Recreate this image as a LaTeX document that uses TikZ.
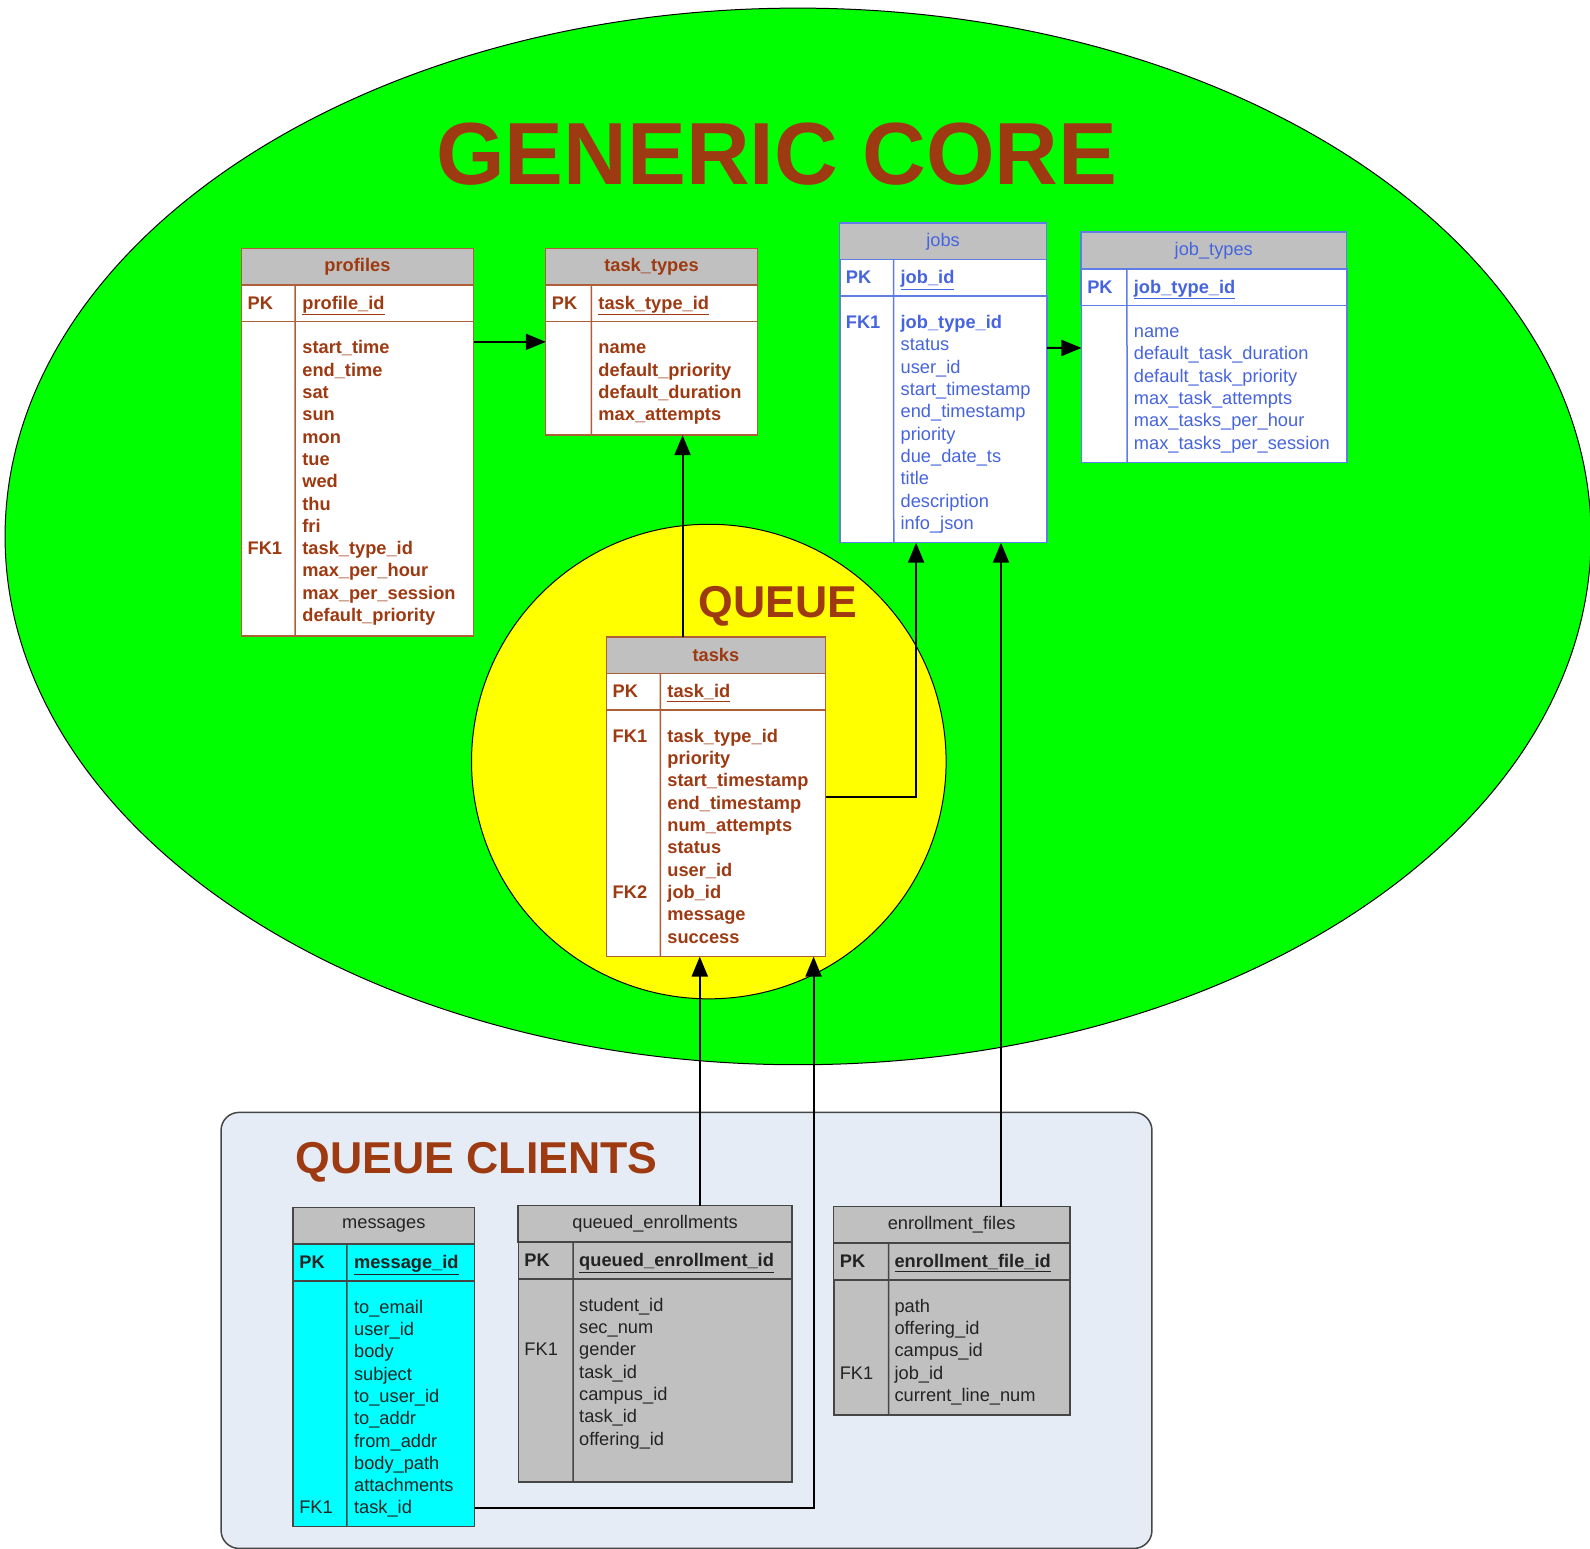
\documentclass[tikz,border=0pt]{standalone}
\usepackage{fontspec}
\setmainfont{Liberation Sans}
\usetikzlibrary{arrows.meta, positioning}

\definecolor{coregreen}{RGB}{0,255,0}
\definecolor{queueyellow}{RGB}{255,255,0}
\definecolor{brn}{RGB}{158,58,18}
\definecolor{brnline}{RGB}{175,95,55}
\definecolor{blu}{RGB}{70,100,222}
\definecolor{bluline}{RGB}{95,125,228}
\definecolor{hdrgray}{RGB}{192,192,192}
\definecolor{clientbg}{RGB}{230,236,246}
\definecolor{msgcyan}{RGB}{0,255,255}
\definecolor{txtgray}{RGB}{35,35,35}
\definecolor{linegray}{RGB}{70,70,70}
\newcommand{\fldfont}{\fontsize{18}{22}\selectfont}

\begin{document}
\begin{tikzpicture}[x=1pt, y=-1pt, scale=1.014, transform shape,
  tbl/.style={draw, line width=1.5pt, inner sep=0pt, outer sep=0pt, anchor=north west},
  tblhead/.style={tbl, fill=hdrgray, minimum height=36pt},
  tblpk/.style={tbl, minimum height=36pt},
  fld/.style={anchor=base west, inner sep=0pt, font=\fldfont},
  brnfld/.style={fld, text=brn, font=\fldfont\bfseries},
  blufld/.style={fld, text=blu},
  blubold/.style={fld, text=blu, font=\fldfont\bfseries},
  grayfld/.style={fld, text=txtgray},
  graybold/.style={fld, text=txtgray, font=\fldfont\bfseries},
  conn/.style={line width=2pt, -{Triangle[length=20pt, width=16pt]}},
  bigtitle/.style={anchor=base, text=brn, font=\bfseries\fontsize{44}{50}\selectfont}
]
\useasboundingbox (0,0) rectangle (1568,1526.6);

% backgrounds
\draw[fill=coregreen, line width=1pt] (787,529) ellipse [x radius=782, y radius=521];
\draw[fill=queueyellow, line width=1pt] (699,751) circle [radius=234];
\draw[fill=clientbg, draw=linegray, line width=1.5pt, rounded corners=18pt] (218,1097) rectangle (1136,1527);

\node[anchor=base, text=brn, font=\bfseries\fontsize{87}{92}\selectfont] (core-title) at (766,182) {GENERIC CORE};
\node[bigtitle] (queue-title) at (767,609) {QUEUE};
\node[bigtitle] (clients-title) at (470,1157) {QUEUE CLIENTS};

% profiles
\node[tblhead, draw=brnline, text=brn, font=\fldfont\bfseries, minimum width=229pt] (profiles) at (238,245) {profiles};
\node[tblpk, draw=brnline, fill=white, minimum width=229pt, below=0pt of profiles] (profiles-pk) {};
\node[tbl, draw=brnline, fill=white, minimum width=229pt, minimum height=310pt, below=0pt of profiles-pk] (profiles-body) {};
\draw[brnline, line width=1.5pt] (profiles-pk.north west) ++(53,0) coordinate (profiles-div) -- (profiles-div |- profiles-body.south);
\node[brnfld] (profiles-k0) at (244,305) {PK};
\node[brnfld] (profiles-id) at (298,305) {\underline{profile\_id}};
\node[brnfld] (profiles-k1) at (244,547) {FK1};
\foreach \f [count=\i from 0] in {start\_time, end\_time, sat, sun, mon, tue, wed, thu, fri, task\_type\_id, max\_per\_hour, max\_per\_session, default\_priority}
  \node[brnfld] (profiles-f\i) at (298,{349+22*\i}) {\f};

% task_types
\node[tblhead, draw=brnline, text=brn, font=\fldfont\bfseries, minimum width=209pt] (tasktypes) at (538,245) {task\_types};
\node[tblpk, draw=brnline, fill=white, minimum width=209pt, below=0pt of tasktypes] (tasktypes-pk) {};
\node[tbl, draw=brnline, fill=white, minimum width=209pt, minimum height=112pt, below=0pt of tasktypes-pk] (tasktypes-body) {};
\draw[brnline, line width=1.5pt] (tasktypes-pk.north west) ++(45,0) coordinate (tasktypes-div) -- (tasktypes-div |- tasktypes-body.south);
\node[brnfld] (tasktypes-k0) at (544,305) {PK};
\node[brnfld] (tasktypes-id) at (590,305) {\underline{task\_type\_id}};
\foreach \f [count=\i from 0] in {name, default\_priority, default\_duration, max\_attempts}
  \node[brnfld] (tasktypes-f\i) at (590,{349+22*\i}) {\f};

% jobs
\node[tblhead, draw=bluline, text=blu, font=\fldfont, minimum width=204pt] (jobs) at (828,220) {jobs};
\node[tblpk, draw=bluline, fill=white, minimum width=204pt, below=0pt of jobs] (jobs-pk) {};
\node[tbl, draw=bluline, fill=white, minimum width=204pt, minimum height=243pt, below=0pt of jobs-pk] (jobs-body) {};
\draw[bluline, line width=1.5pt] (jobs-pk.north west) ++(53,0) coordinate (jobs-div) -- (jobs-div |- jobs-body.south);
\node[blubold] (jobs-k0) at (834,280) {PK};
\node[blubold] (jobs-id) at (888,280) {\underline{job\_id}};
\node[blubold] (jobs-k1) at (834,324) {FK1};
\node[blubold] (jobs-f0) at (888,324) {job\_type\_id};
\foreach \f [count=\i from 1] in {status, user\_id, start\_timestamp, end\_timestamp, priority, due\_date\_ts, title, description, info\_json}
  \node[blufld] (jobs-f\i) at (888,{324+22*\i}) {\f};

% job_types
\node[tblhead, draw=bluline, text=blu, font=\fldfont, minimum width=262pt] (jobtypes) at (1066,229) {job\_types};
\node[tblpk, draw=bluline, fill=white, minimum width=262pt, below=0pt of jobtypes] (jobtypes-pk) {};
\node[tbl, draw=bluline, fill=white, minimum width=262pt, minimum height=155pt, below=0pt of jobtypes-pk] (jobtypes-body) {};
\draw[bluline, line width=1.5pt] (jobtypes-pk.north west) ++(45,0) coordinate (jobtypes-div) -- (jobtypes-div |- jobtypes-body.south);
\node[blubold] (jobtypes-k0) at (1072,289) {PK};
\node[blubold] (jobtypes-id) at (1118,289) {\underline{job\_type\_id}};
\foreach \f [count=\i from 0] in {name, default\_task\_duration, default\_task\_priority, max\_task\_attempts, max\_tasks\_per\_hour, max\_tasks\_per\_session}
  \node[blufld] (jobtypes-f\i) at (1118,{333+22*\i}) {\f};

% tasks
\node[tblhead, draw=brnline, text=brn, font=\fldfont\bfseries, minimum width=216pt] (tasks) at (598,628) {tasks};
\node[tblpk, draw=brnline, fill=white, minimum width=216pt, below=0pt of tasks] (tasks-pk) {};
\node[tbl, draw=brnline, fill=white, minimum width=216pt, minimum height=243pt, below=0pt of tasks-pk] (tasks-body) {};
\draw[brnline, line width=1.5pt] (tasks-pk.north west) ++(53,0) coordinate (tasks-div) -- (tasks-div |- tasks-body.south);
\node[brnfld] (tasks-k0) at (604,688) {PK};
\node[brnfld] (tasks-id) at (658,688) {\underline{task\_id}};
\node[brnfld] (tasks-k1) at (604,732) {FK1};
\node[brnfld] (tasks-k2) at (604,886) {FK2};
\foreach \f [count=\i from 0] in {task\_type\_id, priority, start\_timestamp, end\_timestamp, num\_attempts, status, user\_id, job\_id, message, success}
  \node[brnfld] (tasks-f\i) at (658,{732+22*\i}) {\f};

% messages
\node[tblhead, draw=linegray, text=txtgray, font=\fldfont, minimum width=179pt] (messages) at (289,1191) {messages};
\node[tblpk, draw=linegray, fill=msgcyan, minimum width=179pt, below=0pt of messages] (messages-pk) {};
\node[tbl, draw=linegray, fill=msgcyan, minimum width=179pt, minimum height=242pt, below=0pt of messages-pk] (messages-body) {};
\draw[linegray, line width=1.5pt] (messages-pk.north west) ++(53,0) coordinate (messages-div) -- (messages-div |- messages-body.south);
\node[graybold] (messages-k0) at (295,1251) {PK};
\node[graybold] (messages-id) at (349,1251) {\underline{message\_id}};
\node[grayfld] (messages-k1) at (295,1493) {FK1};
\foreach \f [count=\i from 0] in {to\_email, user\_id, body, subject, to\_user\_id, to\_addr, from\_addr, body\_path, attachments, task\_id}
  \node[grayfld] (messages-f\i) at (349,{1295+22*\i}) {\f};

% queued_enrollments
\node[tblhead, draw=linegray, text=txtgray, font=\fldfont, minimum width=270pt] (queued) at (511,1189) {queued\_enrollments};
\node[tblpk, draw=linegray, fill=hdrgray, minimum width=270pt, below=0pt of queued] (queued-pk) {};
\node[tbl, draw=linegray, fill=hdrgray, minimum width=270pt, minimum height=200pt, below=0pt of queued-pk] (queued-body) {};
\draw[linegray, line width=1.5pt] (queued-pk.north west) ++(54,0) coordinate (queued-div) -- (queued-div |- queued-body.south);
\node[graybold] (queued-k0) at (517,1249) {PK};
\node[graybold] (queued-id) at (571,1249) {\underline{queued\_enrollment\_id}};
\node[grayfld] (queued-k1) at (517,1337) {FK1};
\foreach \f [count=\i from 0] in {student\_id, sec\_num, gender, task\_id, campus\_id, task\_id, offering\_id}
  \node[grayfld] (queued-f\i) at (571,{1293+22*\i}) {\f};

% enrollment_files
\node[tblhead, draw=linegray, text=txtgray, font=\fldfont, minimum width=233pt] (efiles) at (822,1190) {enrollment\_files};
\node[tblpk, draw=linegray, fill=hdrgray, minimum width=233pt, below=0pt of efiles] (efiles-pk) {};
\node[tbl, draw=linegray, fill=hdrgray, minimum width=233pt, minimum height=133pt, below=0pt of efiles-pk] (efiles-body) {};
\draw[linegray, line width=1.5pt] (efiles-pk.north west) ++(54,0) coordinate (efiles-div) -- (efiles-div |- efiles-body.south);
\node[graybold] (efiles-k0) at (828,1250) {PK};
\node[graybold] (efiles-id) at (882,1250) {\underline{enrollment\_file\_id}};
\node[grayfld] (efiles-k1) at (828,1360) {FK1};
\foreach \f [count=\i from 0] in {path, offering\_id, campus\_id, job\_id, current\_line\_num}
  \node[grayfld] (efiles-f\i) at (882,{1294+22*\i}) {\f};

% connectors
\draw[conn] ([yshift=-20pt]profiles-body.north east) -- ([yshift=-20pt]tasktypes-body.north west);
\draw[conn] ([xshift=-33pt]tasks.north) -- ([xshift=-33pt]tasks.north |- tasktypes-body.south);
\draw[conn] ([yshift=-86pt]tasks-body.north east) -| ([xshift=-27pt]jobs-body.south);
\draw[conn] ([yshift=-51pt]jobs-body.north east) -- ([yshift=-42pt]jobtypes-body.north west);
\draw[conn] ([xshift=44pt]queued.north) -- ([xshift=44pt]queued.north |- tasks-body.south);
\draw[conn] ([yshift=18pt]messages-body.south east) -| ([xshift=96pt]tasks-body.south);
\draw[conn] ([xshift=48.5pt]efiles.north) -- ([xshift=48.5pt]efiles.north |- jobs-body.south);
\end{tikzpicture}
\end{document}
